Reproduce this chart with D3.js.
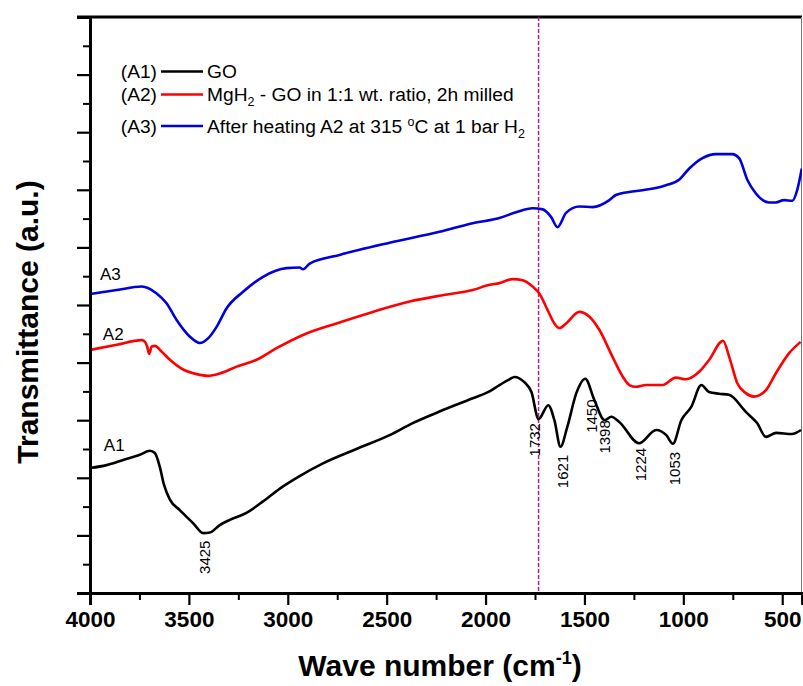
<!DOCTYPE html>
<html>
<head>
<meta charset="utf-8">
<script src="https://cdn.jsdelivr.net/npm/d3@7"></script>
<style>
  body { margin: 0; background: #fff; }
  svg text { font-family: "Liberation Sans", Arial, sans-serif; }
</style>
</head>
<body>
<div id="chart"></div>
<script>
// FTIR spectra, wavenumber (cm-1) vs transmittance (a.u., offset)
let wnA1 = [4000, 3916, 3832, 3748, 3697, 3672, 3647, 3626, 3596, 3546, 3478, 3428, 3394, 3344, 3293, 3209, 3125, 3024, 2940, 2822, 2653, 2485, 2368, 2233, 2065, 1980, 1930, 1879, 1854, 1804, 1768, 1732, 1683, 1652, 1621, 1587, 1541, 1496, 1450, 1398, 1364, 1324, 1224, 1137, 1086, 1053, 1010, 960, 909, 870, 819, 769, 683, 627, 582, 531, 451, 405];
let tA1 = [2.17, 2.22, 2.31, 2.40, 2.47, 2.43, 2.19, 1.88, 1.62, 1.44, 1.21, 1.04, 1.05, 1.18, 1.27, 1.39, 1.59, 1.85, 2.03, 2.25, 2.50, 2.74, 2.95, 3.15, 3.38, 3.50, 3.61, 3.71, 3.75, 3.66, 3.49, 3.02, 3.26, 3.00, 2.54, 2.88, 3.47, 3.72, 3.35, 3.00, 3.06, 2.97, 2.60, 2.83, 2.74, 2.59, 3.00, 3.23, 3.61, 3.49, 3.46, 3.44, 3.14, 2.95, 2.71, 2.78, 2.76, 2.83];

let wnA2 = [4000, 3865, 3739, 3722, 3711, 3701, 3688, 3672, 3638, 3596, 3529, 3461, 3403, 3344, 3259, 3158, 3057, 2923, 2754, 2570, 2384, 2216, 2065, 1980, 1930, 1863, 1812, 1762, 1728, 1686, 1652, 1627, 1593, 1526, 1476, 1425, 1358, 1307, 1273, 1240, 1189, 1105, 1038, 987, 920, 869, 799, 768, 727, 684, 642, 583, 533, 466, 407];
let tA2 = [4.22, 4.31, 4.39, 4.36, 4.28, 4.15, 4.28, 4.29, 4.19, 4.05, 3.88, 3.80, 3.77, 3.81, 3.93, 4.05, 4.25, 4.48, 4.68, 4.88, 5.06, 5.17, 5.26, 5.35, 5.38, 5.45, 5.43, 5.32, 5.20, 4.91, 4.68, 4.60, 4.68, 4.88, 4.80, 4.57, 4.10, 3.76, 3.61, 3.58, 3.61, 3.61, 3.74, 3.71, 3.84, 4.05, 4.38, 4.10, 3.64, 3.47, 3.41, 3.52, 3.81, 4.16, 4.36];

let wnA3 = [4000, 3865, 3739, 3663, 3613, 3562, 3495, 3445, 3403, 3360, 3310, 3226, 3125, 3007, 2940, 2923, 2889, 2738, 2485, 2233, 2065, 1930, 1846, 1762, 1711, 1669, 1636, 1593, 1526, 1459, 1374, 1341, 1257, 1139, 1088, 1020, 970, 903, 836, 752, 718, 676, 634, 567, 533, 491, 449, 424, 401];
let tA3 = [5.19, 5.26, 5.32, 5.20, 5.03, 4.74, 4.45, 4.34, 4.42, 4.62, 4.94, 5.23, 5.49, 5.64, 5.65, 5.62, 5.72, 5.87, 6.08, 6.27, 6.42, 6.51, 6.61, 6.68, 6.66, 6.53, 6.35, 6.60, 6.71, 6.70, 6.82, 6.91, 6.97, 7.03, 7.08, 7.18, 7.37, 7.55, 7.62, 7.62, 7.55, 7.17, 6.94, 6.78, 6.78, 6.82, 6.81, 7.00, 7.37];

let majorX = [4000, 3500, 3000, 2500, 2000, 1500, 1000, 500];
let minorX = [3750, 3250, 2750, 2250, 1750, 1250, 750];
let majorY = [0, 1, 2, 3, 4, 5, 6, 7, 8, 9, 10];
let minorY = [0.5, 1.5, 2.5, 3.5, 4.5, 5.5, 6.5, 7.5, 8.5, 9.5];

// peak labels on A1: wavenumber and where the label top sits
let peakWn = [3425, 1732, 1621, 1450, 1398, 1224, 1053];
let peakLabelX = [3420, 1750, 1612, 1462, 1398, 1215, 1045];
let peakTop = [0.91, 2.95, 2.40, 3.36, 3.00, 2.52, 2.45];

let markWn = 1732;

let totalWidth = 803, totalHeight = 686;
let margin = { top: 17, right: 1, bottom: 93, left: 90 };
let innerWidth = totalWidth - margin.left - margin.right;
let innerHeight = totalHeight - margin.top - margin.bottom;

var x = d3.scaleLinear().domain([4000, 400]).range([0, innerWidth]);
var y = d3.scaleLinear().domain([0, 10]).range([innerHeight, 0]);

var svg = d3.select("#chart").append("svg")
    .attr("width", totalWidth)
    .attr("height", totalHeight)
    .style("background", "#fff")
    .append("g")
    .attr("transform", "translate(" + margin.left + "," + margin.top + ")");

svg.append("clipPath").attr("id", "clip")
    .append("rect").attr("width", innerWidth).attr("height", innerHeight);

// frame: top and right
svg.append("line").attr("x1", -13).attr("x2", innerWidth).attr("y1", 0).attr("y2", 0)
    .attr("stroke", "#000").attr("stroke-width", 3);
svg.append("line").attr("x1", innerWidth - 0.5).attr("x2", innerWidth - 0.5).attr("y1", 0).attr("y2", innerHeight)
    .attr("stroke", "#777").attr("stroke-width", 1);

// dashed marker line
svg.append("line")
    .attr("x1", x(markWn)).attr("x2", x(markWn))
    .attr("y1", 0).attr("y2", innerHeight)
    .attr("stroke", "#c8177f").attr("stroke-width", 1.5)
    .attr("stroke-dasharray", "4,2");

let series = [
    { wn: wnA1, t: tA1, color: "#000000" },
    { wn: wnA2, t: tA2, color: "#ff0000" },
    { wn: wnA3, t: tA3, color: "#0000dc" }
];

var line = d3.line()
    .x(function(d) { return x(d[0]); })
    .y(function(d) { return y(d[1]); })
    .curve(d3.curveMonotoneX);

series.forEach(function(s) {
    let pts = s.wn.map(function(w, i) { return [w, s.t[i]]; });
    svg.append("path")
        .datum(pts)
        .attr("clip-path", "url(#clip)")
        .attr("fill", "none")
        .attr("stroke", s.color)
        .attr("stroke-width", 2.6)
        .attr("stroke-linejoin", "round")
        .attr("d", line);
});

// x axis
function styleAxis(g, w) {
    g.select(".domain").attr("stroke-width", 2.8);
    g.selectAll(".tick line").attr("stroke-width", w);
}
svg.append("g")
    .attr("transform", "translate(0," + innerHeight + ")")
    .call(d3.axisBottom(x).tickValues(minorX).tickSize(7).tickFormat(""))
    .call(styleAxis, 2);
var gx = svg.append("g")
    .attr("transform", "translate(0," + innerHeight + ")")
    .call(d3.axisBottom(x).tickValues(majorX).tickSize(12).tickPadding(6).tickFormat(d3.format("d")))
    .call(styleAxis, 2.2);
gx.selectAll(".tick text")
    .style("font-family", "Liberation Sans, Arial, sans-serif")
    .style("font-size", "22.5px")
    .style("font-weight", "bold")
    .attr("fill", "#000");

// y axis (no labels)
svg.append("g")
    .call(d3.axisLeft(y).tickValues(minorY).tickSize(7).tickFormat(""))
    .call(styleAxis, 2);
svg.append("g")
    .call(d3.axisLeft(y).tickValues(majorY).tickSize(13).tickFormat(""))
    .call(styleAxis, 2.2);

// axis titles
var xt = svg.append("text")
    .attr("x", innerWidth / 2 - 6)
    .attr("y", innerHeight + 83)
    .attr("text-anchor", "middle")
    .style("font-size", "30px")
    .style("font-weight", "bold")
    .text("Wave number (cm");
xt.append("tspan").attr("dy", -12).style("font-size", "18px").text("-1");
xt.append("tspan").attr("dy", 12).text(")");

svg.append("text")
    .attr("transform", "translate(" + (38 - margin.left) + "," + (322 - margin.top) + ") rotate(-90)")
    .attr("text-anchor", "middle")
    .style("font-size", "30px")
    .style("font-weight", "bold")
    .text("Transmittance (a.u.)");

// curve tags
let tagText = ["A1", "A2", "A3"];
let tagWn = [3930, 3935, 3950];
let tagT = [2.46, 4.39, 5.43];
tagText.forEach(function(t, i) {
    svg.append("text")
        .attr("x", x(tagWn[i]))
        .attr("y", y(tagT[i]))
        .style("font-size", "17px")
        .text(t);
});

// peak labels
peakWn.forEach(function(p, i) {
    svg.append("text")
        .attr("transform", "translate(" + x(peakLabelX[i]) + "," + y(peakTop[i]) + ") rotate(-90)")
        .attr("text-anchor", "end")
        .attr("dy", "0.35em")
        .style("font-size", "15px")
        .text(p);
});

// legend
let legTag = ["(A1)", "(A2)", "(A3)"];
let legY = [71.5, 94.5, 126];
let fs = "19.2px", fsSmall = "12.5px";
var leg = svg.append("g").attr("transform", "translate(0," + (-margin.top) + ")");
legTag.forEach(function(t, i) {
    leg.append("text")
        .attr("x", 157 - margin.left).attr("y", legY[i] + 6.5)
        .attr("text-anchor", "end")
        .style("font-size", fs)
        .text(t);
    leg.append("line")
        .attr("x1", 161 - margin.left).attr("x2", 203 - margin.left)
        .attr("y1", legY[i]).attr("y2", legY[i])
        .attr("stroke", series[i].color).attr("stroke-width", 2.6);
});
var l1 = leg.append("text").attr("x", 207 - margin.left).attr("y", legY[0] + 6.5).style("font-size", fs);
l1.text("GO");
var l2 = leg.append("text").attr("x", 207 - margin.left).attr("y", legY[1] + 6.5).style("font-size", fs);
l2.append("tspan").text("MgH");
l2.append("tspan").attr("dy", 5).style("font-size", fsSmall).text("2");
l2.append("tspan").attr("dy", -5).text(" - GO in 1:1 wt. ratio, 2h milled");
var l3 = leg.append("text").attr("x", 207 - margin.left).attr("y", legY[2] + 6.5).style("font-size", fs);
l3.append("tspan").text("After heating A2 at 315 ");
l3.append("tspan").attr("dy", -7).style("font-size", fsSmall).text("o");
l3.append("tspan").attr("dy", 7).text("C at 1 bar H");
l3.append("tspan").attr("dy", 5).style("font-size", fsSmall).text("2");
</script>
</body>
</html>
